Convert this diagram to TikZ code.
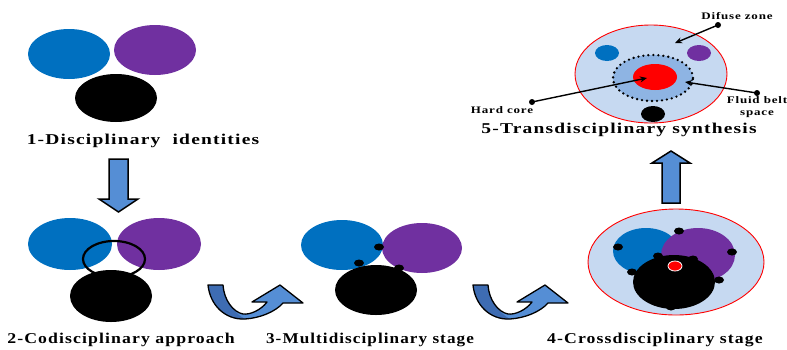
\documentclass[tikz,border=0pt]{standalone}
\usepackage{fontspec}
\newfontfamily\lblfont[FakeStretch=1.3,LetterSpace=8]{Liberation Serif}
\usetikzlibrary{arrows.meta}
\definecolor{dblue}{RGB}{0,112,192}
\definecolor{dpurple}{RGB}{112,48,160}
\definecolor{paleblue}{RGB}{198,217,241}
\definecolor{beltblue}{RGB}{142,180,227}
\definecolor{arrowblue}{RGB}{85,142,213}
\definecolor{arrowdark}{RGB}{62,108,178}
\tikzset{
  curvarrow/.pic={
    \fill[arrowblue] (13,15) .. controls (15,35) and (30,50) .. (50,49) .. controls (65,48) and (80,42) .. (88,33) -- (108,33) -- (85,15) -- (57,32) -- (72,32) .. controls (66,40) and (55,45) .. (48,44) .. controls (38,42) and (29,30) .. (28,15) -- cycle;
    \fill[arrowdark] (13,15) .. controls (15,35) and (30,50) .. (50,49) .. controls (40,44) and (29,30) .. (28,15) -- cycle;
    \draw[line width=1.3pt, line join=round] (13,15) .. controls (15,35) and (30,50) .. (50,49) .. controls (65,48) and (80,42) .. (88,33) -- (108,33) -- (85,15) -- (57,32) -- (72,32) .. controls (66,40) and (55,45) .. (48,44) .. controls (38,42) and (29,30) .. (28,15) -- cycle;
  }
}
\begin{document}
\begin{tikzpicture}[x=1pt,y=-1pt,
  lbl/.style={font=\lblfont\bfseries\fontsize{15}{18}\selectfont, inner sep=0pt},
  small/.style={font=\lblfont\bfseries\fontsize{10}{11.5}\selectfont, inner sep=0pt, align=center},
  blockarrow/.style={fill=arrowblue, draw=black, line width=1.5pt, line join=miter},
  pinline/.style={line width=1.4pt, -{Stealth[length=7pt,width=6pt]}},
  belt/.style={draw=black, line width=2.6pt, line cap=round, dash pattern=on 0pt off 5pt}
]
\useasboundingbox (0,0) rectangle (787,349);

% ---------- Panel 1
\fill[dblue] (69,54) ellipse [x radius=41pt,y radius=25pt];
\fill[dpurple] (155,50) ellipse [x radius=41pt,y radius=25pt];
\fill[black] (116,98) ellipse [x radius=41pt,y radius=24pt];
\node[lbl] (t1) at (143,141) {1-Disciplinary\ \ identities};

% down arrow
\draw[blockarrow] (109,159) -- (128,159) -- (128,199) -- (138,199) -- (118.5,212) -- (99,199) -- (109,199) -- cycle;

% ---------- Panel 2
\fill[dblue] (70,244) ellipse [x radius=42pt,y radius=26pt];
\fill[dpurple] (159,244) ellipse [x radius=42pt,y radius=26pt];
\fill[black] (111,296) ellipse [x radius=41pt,y radius=26pt];
\draw[black, line width=2.2pt] (114,259) ellipse [x radius=31pt,y radius=18pt];
\node[lbl, transform shape, xscale=0.91] (t2) at (121,340) {2-Codisciplinary approach};

% curved arrows
\pic at (195,270) {curvarrow};
\pic at (460,270) {curvarrow};

% ---------- Panel 3
\fill[dblue] (342,245) ellipse [x radius=41pt,y radius=25pt];
\fill[dpurple] (422,248) ellipse [x radius=40pt,y radius=25pt];
\fill[black] (376,290) ellipse [x radius=41pt,y radius=25pt];
\foreach \p in {(379,247),(359,263),(399,268)}
  \fill[black] \p ellipse [x radius=5pt,y radius=3.5pt];
\node[lbl, transform shape, xscale=0.88] (t3) at (370,340) {3-Multidisciplinary stage};

% ---------- Panel 4
\fill[paleblue, draw=red, line width=0.9pt] (676,262) ellipse [x radius=88pt,y radius=53pt];
\fill[dblue] (646,251) ellipse [x radius=33pt,y radius=23pt];
\fill[dpurple] (698,255) ellipse [x radius=37pt,y radius=27pt];
\fill[black] (674,282) ellipse [x radius=41pt,y radius=27pt];
\fill[red, draw=white, line width=0.8pt] (675,266) ellipse [x radius=7pt,y radius=5pt];
\foreach \p in {(679,231),(618,247),(732,252),(658,256),(693,259),(632,272),(719,280),(671,307)}
  \fill[black] \p ellipse [x radius=5pt,y radius=3.5pt];
\node[lbl, transform shape, xscale=0.91] (t4) at (655,340) {4-Crossdisciplinary stage};

% up arrow
\draw[blockarrow] (662,203) -- (662,163) -- (652,163) -- (671,151) -- (690,163) -- (680,163) -- (680,203) -- cycle;

% ---------- Panel 5
\fill[paleblue, draw=red, line width=0.9pt] (651,74) ellipse [x radius=76pt,y radius=49pt];
\fill[dblue] (607,53) ellipse [x radius=12pt,y radius=8pt];
\fill[dpurple] (699,53) ellipse [x radius=12pt,y radius=8pt];
\fill[black] (653,114) ellipse [x radius=12pt,y radius=8pt];
\fill[beltblue] (653,78) ellipse [x radius=40pt,y radius=23pt];
\draw[belt] (653,78) ellipse [x radius=40pt,y radius=23pt];
\fill[red] (655,77) ellipse [x radius=22pt,y radius=13pt];
\node[lbl] (t5) at (619,130) {5-Transdisciplinary synthesis};

% annotations
\node[small] (dz) at (737,16) {Difuse zone};
\coordinate (dzdot) at (718,25);
\coordinate (dztip) at (675,43);
\fill (dzdot) circle [radius=3pt];
\draw[pinline] (dzdot) -- (dztip);

\node[small] (hc) at (502,110) {Hard core};
\coordinate (hcdot) at (532,102);
\coordinate (hctip) at (647,78);
\fill (hcdot) circle [radius=3pt];
\draw[pinline] (hcdot) -- (hctip);

\node[small] (fb) at (757,107) {Fluid belt\\space};
\coordinate (fbdot) at (757,93);
\coordinate (fbtip) at (685,82);
\fill (fbdot) circle [radius=3pt];
\draw[pinline] (fbdot) -- (fbtip);
\end{tikzpicture}
\end{document}
